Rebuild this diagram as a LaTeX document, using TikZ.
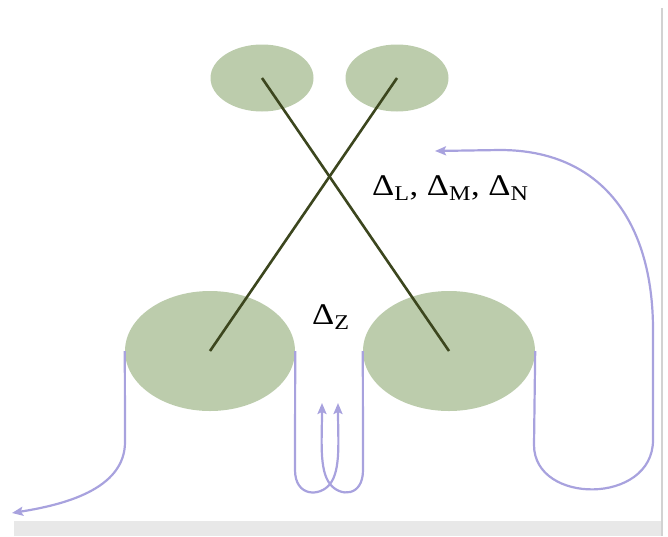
\documentclass[tikz,border=0pt]{standalone}
\usepackage{fontspec}
\setmainfont{Liberation Serif}
\usetikzlibrary{shapes.geometric,arrows.meta}
\definecolor{leafgreen}{RGB}{188,204,172}
\definecolor{stemgreen}{RGB}{60,70,30}
\definecolor{trailviolet}{RGB}{168,162,222}
\newcommand{\wide}[1]{\scalebox{1.15}[1]{#1}}
\tikzset{
  blob/.style={ellipse, fill=leafgreen, draw=none, inner sep=0pt},
  stem/.style={stemgreen, line width=2.6pt},
  trail/.style={trailviolet, line width=2.2pt, -{Stealth[length=11pt,width=9pt,inset=2pt]}},
  lab/.style={anchor=base west, inner sep=0pt, font=\fontsize{30}{33}\selectfont},
}
\begin{document}
\begin{tikzpicture}[x=1pt,y=-1pt]
\useasboundingbox (0,0) rectangle (668,536);
% slide frame
\fill[gray!18] (14,521) rectangle (662,536) ;
\draw[gray!35, line width=2pt] (662,8) -- (662,536) ;

\node (tl)[blob, minimum width=103pt, minimum height=67pt] at (262,78) {} ;
\node (tr)[blob, minimum width=103pt, minimum height=67pt] at (397,78) {} ;
\node (bl)[blob, minimum width=170pt, minimum height=120pt] at (210,351) {} ;
\node (br)[blob, minimum width=172pt, minimum height=120pt] at (449,351) {} ;

\draw[stem] (tl.center) -- (br.center) ;
\draw[stem] (tr.center) -- (bl.center) ;

\node (lmn)[lab] at (372,195) {\wide{Δ\textsubscript{L}, Δ\textsubscript{M}, Δ\textsubscript{N}}} ;
\node (dz)[lab] at (312,324) {\wide{Δ\textsubscript{Z}}} ;

% free ends of the violet trails
\coordinate (outl) at (12,513) ;
\coordinate (upl) at (322,403) ;
\coordinate (upr) at (338,403) ;
\coordinate (outr) at (435,151) ;

\draw[trail] (bl.west) -- (125,442) .. controls (125,490) and (62,505) .. (outl) ;
\draw[trail] (bl.east) -- (295,470) .. controls (295,497) and (320,497) .. (330,484) .. controls (341,470) and (338,440) .. (upr) ;
\draw[trail] (br.west) -- (363,470) .. controls (363,497) and (340,497) .. (330,484) .. controls (319,470) and (322,440) .. (upl) ;
\draw[trail] (br.east) -- (534,445) .. controls (534,505) and (653,505) .. (653,440) -- (653,330) .. controls (653,220) and (600,150) .. (500,150) -- (outr) ;
\end{tikzpicture}
\end{document}
